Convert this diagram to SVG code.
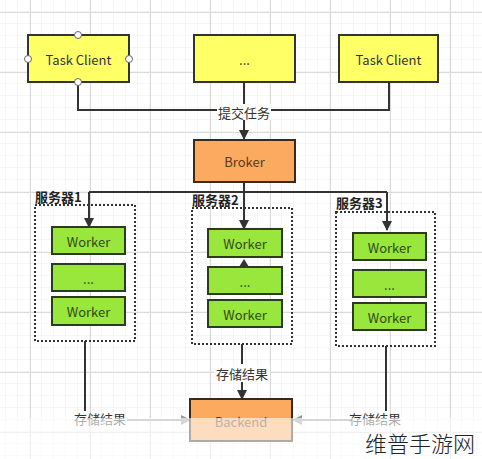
<svg xmlns="http://www.w3.org/2000/svg" width="482" height="459" viewBox="0 0 482 459">
<defs>
<pattern id="minor" width="12" height="12" patternUnits="userSpaceOnUse" x="6" y="0">
<path d="M12 0V12M0 12H12" fill="none" stroke="#ececec" stroke-width="1"/>
</pattern>
<pattern id="major" width="60" height="60" patternUnits="userSpaceOnUse" x="30" y="12">
<path d="M0.5 0V60M0 0.5H60" fill="none" stroke="#dadada" stroke-width="1"/>
</pattern>
<marker id="arr" viewBox="0 0 10 10" refX="9" refY="5" markerWidth="10" markerHeight="10" markerUnits="userSpaceOnUse" orient="auto">
<path d="M0 0L10 5L0 10z" fill="#333"/>
</marker>
<marker id="arrg" viewBox="0 0 10 10" refX="9" refY="5" markerWidth="10" markerHeight="10" markerUnits="userSpaceOnUse" orient="auto">
<path d="M0 0L10 5L0 10z" fill="#999"/>
</marker>
</defs>
<style>
text{font-family:"Noto Sans CJK SC","Microsoft YaHei",sans-serif;text-anchor:middle;dominant-baseline:central}
.yel{fill:#FFFF66;stroke:#333;stroke-width:2}
.org{fill:#FBAA5F;stroke:#3a2a1c;stroke-width:2}
.grn{fill:#99E63D;stroke:#2c3a20;stroke-width:2}
.srv{fill:none;stroke:#333;stroke-width:2;stroke-dasharray:2 2}
.t{font-size:13px;fill:#333}
.tw{font-size:13px;fill:#2f4a18}
.tb{font-size:13px;fill:#5a3a1c}
.lbl{font-size:13px;fill:#222;font-weight:bold;text-anchor:start}
.c{fill:none;stroke:#333;stroke-width:2}
.port{fill:#fff;stroke:#666;stroke-width:1}
</style>
<rect width="482" height="459" fill="#fff"/>
<rect width="482" height="459" fill="url(#minor)"/>
<rect width="482" height="459" fill="url(#major)"/>

<g id="connectors">
<path class="c" d="M78 82V110H389V82"/>
<path class="c" d="M244 82V139" marker-end="url(#arr)"/>
<path class="c" d="M244 182V192"/>
<path class="c" d="M89 192H387"/>
<path class="c" d="M89 192V227" marker-end="url(#arr)"/>
<path class="c" d="M244 192V229" marker-end="url(#arr)"/>
<path class="c" d="M387 192V230" marker-end="url(#arr)"/>
<path class="c" d="M85 341V411"/>
<path class="c" d="M242 344V364"/>
<path class="c" d="M242 382V399" marker-end="url(#arr)"/>
<path class="c" d="M386 346V411"/>
<path d="M127 420H190" fill="none" stroke="#999" stroke-width="2" marker-end="url(#arrg)"/>
<path d="M350 420H293" fill="none" stroke="#999" stroke-width="2" marker-end="url(#arrg)"/>
<rect x="217" y="104" width="54" height="16" fill="#fff"/>
<text class="t" x="244" y="112">提交任务</text>
<rect x="214" y="365" width="56" height="16" fill="#fff"/>
<text class="t" x="242" y="373">存储结果</text>
<text class="t" x="100" y="418">存储结果</text>
<text class="t" x="375" y="418">存储结果</text>
</g>

<g id="client1">
<rect class="yel" x="28" y="35" width="101" height="47"/>
<text class="t" x="78.5" y="59">Task Client</text>
<circle class="port" cx="78" cy="35" r="3.5"/>
<circle class="port" cx="28" cy="59" r="3.5"/>
<circle class="port" cx="129" cy="59" r="3.5"/>
<circle class="port" cx="78" cy="82" r="3.5"/>
</g>
<g id="client2">
<rect class="yel" x="194" y="35" width="101" height="47"/>
<text class="t" x="244.5" y="59">...</text>
</g>
<g id="client3">
<rect class="yel" x="339" y="35" width="99" height="47"/>
<text class="t" x="388.5" y="59">Task Client</text>
</g>

<g id="broker">
<rect class="org" x="194" y="140" width="101" height="42"/>
<text class="tb" x="244.5" y="161">Broker</text>
</g>

<g id="server1">
<rect class="srv" x="35" y="205" width="100" height="136"/>
<text class="lbl" x="35" y="196">服务器1</text>
<rect class="grn" x="52" y="227" width="73" height="27"/>
<text class="tw" x="88.5" y="241">Worker</text>
<rect class="grn" x="52" y="264" width="73" height="27"/>
<text class="tw" x="88.5" y="278">...</text>
<rect class="grn" x="52" y="297" width="73" height="28"/>
<text class="tw" x="88.5" y="311">Worker</text>
</g>

<g id="server2">
<rect class="srv" x="192" y="208" width="100" height="136"/>
<text class="lbl" x="192" y="199">服务器2</text>
<rect class="grn" x="208" y="229" width="74" height="28"/>
<text class="tw" x="245" y="243">Worker</text>
<rect class="grn" x="208" y="267" width="74" height="27"/>
<text class="tw" x="245" y="281">...</text>
<rect class="grn" x="208" y="300" width="74" height="27"/>
<text class="tw" x="245" y="314">Worker</text>
<path d="M239 267L244 259L249 267z" fill="#333"/>
</g>

<g id="server3">
<rect class="srv" x="336" y="212" width="99" height="134"/>
<text class="lbl" x="336" y="202">服务器3</text>
<rect class="grn" x="353" y="233" width="73" height="27"/>
<text class="tw" x="389.5" y="247">Worker</text>
<rect class="grn" x="353" y="270" width="73" height="27"/>
<text class="tw" x="389.5" y="284">...</text>
<rect class="grn" x="353" y="303" width="73" height="27"/>
<text class="tw" x="389.5" y="317">Worker</text>
</g>

<g id="backend">
<rect class="org" x="190" y="399" width="102" height="42"/>
<text class="tb" x="241" y="421">Backend</text>
</g>

<rect x="0" y="418" width="482" height="41" fill="#fff" opacity="0.6"/>
<text x="420" y="442" style="font-size:22px;fill:#222;font-weight:300">维普手游网</text>
</svg>
